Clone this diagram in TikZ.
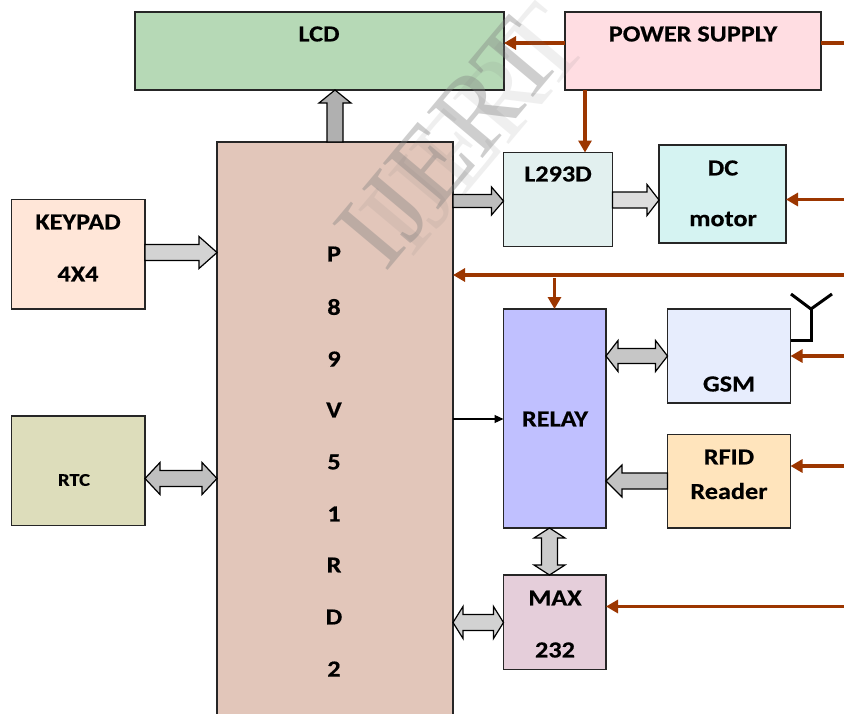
\documentclass[tikz,border=0pt]{standalone}
\usepackage{fontspec}
\setmainfont[FakeStretch=1.14,BoldFeatures={FakeBold=0.4,FakeStretch=1.14}]{Carlito}
\newfontfamily\wmfont{Liberation Serif}
\usetikzlibrary{arrows.meta,calc}
\definecolor{brownline}{HTML}{9C3600}
\newcommand{\hexfill}[2]{\definecolor{#1}{HTML}{#2}}
\hexfill{clcd}{B6D9B6}\hexfill{cpsu}{FFDDE2}\hexfill{cmcu}{E2C6BA}\hexfill{cl}{E2F0EF}
\hexfill{cdc}{D5F3F2}\hexfill{crelay}{C0C0FF}\hexfill{cgsm}{E7EDFD}\hexfill{crfid}{FFE4BC}
\hexfill{cmax}{E5CEDA}\hexfill{ckey}{FFE6D8}\hexfill{crtc}{DDDDBB}
\hexfill{gA}{B0B0B0}\hexfill{gB}{BDBDBD}\hexfill{gC}{DDDDDD}\hexfill{gD}{D3D3D3}\hexfill{gE}{C2C2C2}
\hexfill{gF}{C6C6C6}\hexfill{gG}{BFBFBF}\hexfill{gH}{D2D2D2}\hexfill{gI}{CCCCCC}
\tikzset{
  boxnode/.style={draw=black!85,line width=1.2pt,inner sep=0pt,outer sep=0pt,anchor=north west},
  lbl/.style={inner sep=0pt,font=\fontsize{23}{23}\selectfont\bfseries,text=black},
  blockarrow/.style={draw=black,line width=1.2pt,line join=miter},
  power/.style={draw=brownline,line width=3.2pt,-{Triangle[length=12pt,width=13pt]}},
  powerplain/.style={draw=brownline,line width=3.2pt},
  signal/.style={draw=black,line width=1.2pt,-{Triangle[length=9pt,width=8pt]}},
  antenna/.style={draw=black,line width=3pt,line join=miter},
  wm/.style={inner sep=0pt,anchor=base,font=\fontsize{110}{110}\wmfont,rotate=50}
}
\newcommand{\boxat}[6]{\node[boxnode,fill=#6,minimum width={#4-#2},minimum height={#5-#3}] (#1) at (#2,#3) {};}
\newcommand{\measure}[2]{\path let \p1=#1, \p2=#2, \n1={veclen(\x2-\x1,\y2-\y1)}, \n2={atan2(\y2-\y1,\x2-\x1)} in
  \pgfextra{\pgfmathparse{\n1}\xdef\arrlen{\pgfmathresult}\pgfmathparse{\n2}\xdef\arrang{\pgfmathresult}};}
% from, to, shaft, head width, head length, fill
\newcommand{\onearrow}[6]{\measure{#1}{#2}
  \begin{scope}[shift={#1},rotate=\arrang,x=1pt,y=1pt]
  \draw[blockarrow,fill=#6] (0,#3/2) -- ({\arrlen-#5},#3/2) -- ({\arrlen-#5},#4/2) -- (\arrlen,0)
    -- ({\arrlen-#5},-#4/2) -- ({\arrlen-#5},-#3/2) -- (0,-#3/2) -- cycle;
  \end{scope}}
\newcommand{\twoarrow}[6]{\measure{#1}{#2}
  \begin{scope}[shift={#1},rotate=\arrang,x=1pt,y=1pt]
  \draw[blockarrow,fill=#6] (0,0) -- (#5,#4/2) -- (#5,#3/2) -- ({\arrlen-#5},#3/2) -- ({\arrlen-#5},#4/2) -- (\arrlen,0)
    -- ({\arrlen-#5},-#4/2) -- ({\arrlen-#5},-#3/2) -- (#5,-#3/2) -- (#5,-#4/2) -- cycle;
  \end{scope}}
\begin{document}
\begin{tikzpicture}[x=1pt,y=-1pt]
\useasboundingbox (0,0) rectangle (844,713);
\clip (0,0) rectangle (844,713);
\fill[white] (0,0) rectangle (844,713);
% boxes
\boxat{lcd}{135}{12}{504}{90}{clcd}
\boxat{psu}{565}{12}{821}{90}{cpsu}
\boxat{mcu}{217}{142}{453}{730}{cmcu}
\boxat{l293}{503.5}{152.5}{612.5}{246.5}{cl}
\boxat{dc}{659}{145}{786}{243}{cdc}
\boxat{relay}{503.5}{309}{606}{528}{crelay}
\boxat{gsm}{667.5}{309}{790.5}{403}{cgsm}
\boxat{rfid}{667.5}{434.5}{790.5}{528}{crfid}
\boxat{max}{503.5}{575}{606}{669.5}{cmax}
\boxat{keypad}{11.5}{199.5}{145}{309}{ckey}
\boxat{rtc}{11.5}{416}{145}{525.5}{crtc}
% labels
\node[lbl] (tlcd) at (319,34) {LCD};
\node[lbl] (tpsu) at (693,34) {POWER SUPPLY};
\node[lbl] (tl293) at (558,174) {L293D};
\node[lbl] (tdc1) at (723,168) {DC};
\node[lbl] (tdc2) at (723,219) {motor};
\node[lbl] (trelay) at (555,419) {RELAY};
\node[lbl] (tgsm) at (729,384) {GSM};
\node[lbl] (trfid1) at (729,457) {RFID};
\node[lbl] (trfid2) at (729,491) {Reader};
\node[lbl] (tmax1) at (555,598) {MAX};
\node[lbl] (tmax2) at (555,650) {232};
\node[lbl] (tkey1) at (78,222) {KEYPAD};
\node[lbl] (tkey2) at (78,274) {4X4};
\node[lbl,font=\fontsize{18}{18}\selectfont\bfseries] (trtc) at (74,480) {RTC};
\node[lbl] (p1) at (334,254) {P};
\node[lbl] (p2) at (334,307) {8};
\node[lbl] (p3) at (334,359) {9};
\node[lbl] (p4) at (334,410) {V};
\node[lbl] (p5) at (334,462) {5};
\node[lbl] (p6) at (334,514) {1};
\node[lbl] (p7) at (334,565) {R};
\node[lbl] (p8) at (334,617) {D};
\node[lbl] (p9) at (334,669) {2};
% block arrows
\onearrow{(mcu.north -| 335,0)}{(lcd.south -| 335,0)}{16}{32}{13}{gA}
\onearrow{(mcu.east |- 0,201)}{(l293.west |- 0,201)}{13}{28}{12}{gB}
\onearrow{(l293.east |- 0,200)}{(dc.west |- 0,200)}{16}{31}{12}{gC}
\onearrow{(keypad.east |- 0,252.5)}{(mcu.west |- 0,252.5)}{16}{32}{18}{gD}
\onearrow{(rfid.west |- 0,481)}{(relay.east |- 0,481)}{16}{32}{16}{gE}
\twoarrow{(relay.east |- 0,356)}{(gsm.west |- 0,356)}{15}{31}{12}{gF}
\twoarrow{(rtc.east |- 0,478.5)}{(mcu.west |- 0,478.5)}{16}{32}{15}{gG}
\twoarrow{(mcu.east |- 0,622.5)}{(max.west |- 0,622.5)}{16}{32}{10}{gH}
\twoarrow{(relay.south -| 549.5,0)}{(max.north -| 549.5,0)}{16}{31}{10}{gI}
% power lines
\coordinate (e1) at (844,43);
\coordinate (e2) at (844,199.5);
\coordinate (e3) at (844,275);
\coordinate (e4) at (844,356);
\coordinate (e5) at (844,466);
\coordinate (e6) at (844,606.5);
\coordinate (t1) at (554.5,278);
\coordinate (t2) at (585,90);
\draw[power] (psu.west |- e1) -- (lcd.east |- e1);
\draw[powerplain] (psu.east |- e1) -- (e1);
\draw[power] (psu.south -| t2) -- (l293.north -| t2);
\draw[power] (e2) -- (dc.east |- e2);
\draw[power] (e3) -- (mcu.east |- e3);
\draw[power] (t1) -- (relay.north -| t1);
\draw[power] (e4) -- (gsm.east |- e4);
\draw[power] (e5) -- (rfid.east |- e5);
\draw[power] (e6) -- (max.east |- e6);
\coordinate (s1) at (453,419);
\draw[signal] (mcu.east |- s1) -- (relay.west |- s1);
% antenna
\coordinate (ant) at (811,309);
\coordinate (antb) at (811,340.5);
\draw[antenna] (gsm.east |- antb) -- (antb) -- (ant);
\coordinate (antl) at (791,294);
\coordinate (antr) at (832,294);
\draw[antenna] (antl) -- (ant) -- (antr);
% watermark
\node[wm,text=gray,opacity=.12] (wm2) at (502,152) {IJERT};
\node[wm,text=gray,opacity=.38] (wm1) at (476,166) {IJERT};
\end{tikzpicture}
\end{document}
